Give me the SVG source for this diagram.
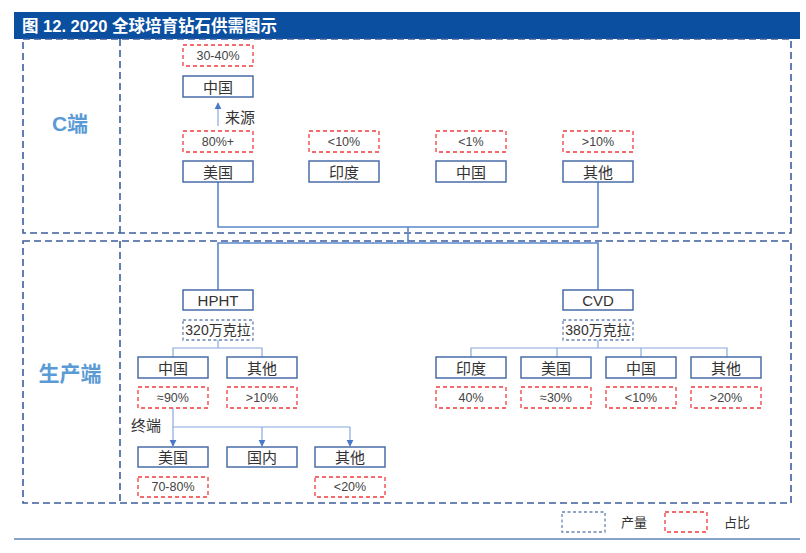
<svg xmlns="http://www.w3.org/2000/svg" width="806" height="553" viewBox="0 0 806 553">
<defs>
<style>
text{font-family:"Liberation Sans","Noto Sans CJK SC",sans-serif;fill:#333;}
.lbl{font-size:15px;text-anchor:middle;dominant-baseline:central;}
.q{font-size:14px;text-anchor:middle;dominant-baseline:central;}
.pct{font-size:12.5px;text-anchor:middle;dominant-baseline:central;fill:#444;}
.node{fill:#fff;stroke:#4a6ca8;stroke-width:1.5;}
.red{fill:#fff;stroke:#f23b3b;stroke-width:1.3;stroke-dasharray:4 3;}
.qty{fill:#fff;stroke:#6a84b4;stroke-width:1.3;stroke-dasharray:3 2.5;}
.frame{fill:none;stroke:#3d5e9c;stroke-width:1.6;stroke-dasharray:7 4;}
.sec{font-size:21px;font-weight:bold;fill:#5b9bd5;text-anchor:middle;dominant-baseline:central;}
.conn{fill:none;stroke:#5a86cc;stroke-width:1.6;}
.thin{fill:none;stroke:#8aa8dc;stroke-width:1.2;}
</style>
<marker id="ah" viewBox="0 0 10 10" refX="9" refY="5" markerWidth="6" markerHeight="6" orient="auto">
<path d="M0,0 L10,5 L0,10 z" fill="#4a78c8"/>
</marker>
</defs>
<rect width="806" height="553" fill="#fff"/>
<g id="title">
<rect x="14" y="12" width="786" height="27" fill="#0b4fa0"/>
<text x="22" y="26" style="font-size:16.5px;font-weight:bold;fill:#fff;dominant-baseline:central">图 12. 2020 全球培育钻石供需图示</text>
</g>
<g id="frames">
<rect class="frame" x="23" y="39" width="768" height="194"/>
<line class="frame" x1="120" y1="39" x2="120" y2="233"/>
<rect class="frame" x="23" y="241" width="768" height="262"/>
<line class="frame" x1="120" y1="241" x2="120" y2="503"/>
<text class="sec" x="70" y="123">C端</text>
<text class="sec" x="70" y="373">生产端</text>
</g>
<line x1="14" y1="539" x2="800" y2="539" stroke="#87a3c8" stroke-width="2"/>
<g id="connectors">
<path class="conn" d="M218,182 V227 H598 V182"/>
<path class="conn" d="M408,227 V243"/>
<path class="conn" d="M218,290 V243 H598 V290"/>
<path class="thin" d="M218,126 V103" marker-end="url(#ah)"/>
<path class="thin" d="M218,340 V348 M173,357 V348 H262 V357"/>
<path class="thin" d="M598,340 V348 M471,357 V348 H727 V357 M557,348 V357 M641,348 V357"/>
<path class="thin" d="M173,408 V427 H350"/>
<path class="thin" d="M173,427 V446" marker-end="url(#ah)"/>
<path class="thin" d="M262,427 V446" marker-end="url(#ah)"/>
<path class="thin" d="M350,427 V446" marker-end="url(#ah)"/>
<text x="225" y="117" style="font-size:15px;dominant-baseline:central">来源</text>
<text x="131" y="425" style="font-size:15px;dominant-baseline:central">终端</text>
</g>
<g id="c-china-top"><rect class="red" x="183" y="45" width="70" height="21"/><text class="pct" x="218" y="56">30-40%</text>
<rect class="node" x="183" y="76" width="70" height="21"/><text class="lbl" x="218" y="87">中国</text></g>
<g id="c-us"><rect class="red" x="183" y="131" width="70" height="21"/><text class="pct" x="218" y="142">80%+</text>
<rect class="node" x="183" y="161" width="70" height="21"/><text class="lbl" x="218" y="172">美国</text></g>
<g id="c-india"><rect class="red" x="309" y="131" width="70" height="21"/><text class="pct" x="344" y="142">&lt;10%</text>
<rect class="node" x="309" y="161" width="70" height="21"/><text class="lbl" x="344" y="172">印度</text></g>
<g id="c-china"><rect class="red" x="436" y="131" width="70" height="21"/><text class="pct" x="471" y="142">&lt;1%</text>
<rect class="node" x="436" y="161" width="70" height="21"/><text class="lbl" x="471" y="172">中国</text></g>
<g id="c-other"><rect class="red" x="563" y="131" width="70" height="21"/><text class="pct" x="598" y="142">&gt;10%</text>
<rect class="node" x="563" y="161" width="70" height="21"/><text class="lbl" x="598" y="172">其他</text></g>
<g id="hpht"><rect class="node" x="183" y="290" width="70" height="20"/><text class="lbl" x="218" y="300">HPHT</text>
<rect class="qty" x="183" y="320" width="70" height="20"/><text class="q" x="218" y="330">320万克拉</text></g>
<g id="cvd"><rect class="node" x="563" y="290" width="70" height="20"/><text class="lbl" x="598" y="300">CVD</text>
<rect class="qty" x="563" y="320" width="70" height="20"/><text class="q" x="598" y="330">380万克拉</text></g>
<g id="h-china"><rect class="node" x="138" y="357" width="70" height="21"/><text class="lbl" x="173" y="368">中国</text>
<rect class="red" x="138" y="387" width="70" height="21"/><text class="pct" x="173" y="398">≈90%</text></g>
<g id="h-other"><rect class="node" x="227" y="357" width="70" height="21"/><text class="lbl" x="262" y="368">其他</text>
<rect class="red" x="227" y="387" width="70" height="21"/><text class="pct" x="262" y="398">&gt;10%</text></g>
<g id="t-us"><rect class="node" x="138" y="447" width="70" height="20"/><text class="lbl" x="173" y="457">美国</text>
<rect class="red" x="138" y="477" width="70" height="20"/><text class="pct" x="173" y="487">70-80%</text></g>
<g id="t-domestic"><rect class="node" x="227" y="447" width="70" height="20"/><text class="lbl" x="262" y="457">国内</text></g>
<g id="t-other"><rect class="node" x="315" y="447" width="70" height="20"/><text class="lbl" x="350" y="457">其他</text>
<rect class="red" x="315" y="477" width="70" height="20"/><text class="pct" x="350" y="487">&lt;20%</text></g>
<g id="v-india"><rect class="node" x="436" y="357" width="70" height="21"/><text class="lbl" x="471" y="368">印度</text>
<rect class="red" x="436" y="387" width="70" height="21"/><text class="pct" x="471" y="398">40%</text></g>
<g id="v-us"><rect class="node" x="521" y="357" width="70" height="21"/><text class="lbl" x="556" y="368">美国</text>
<rect class="red" x="521" y="387" width="70" height="21"/><text class="pct" x="556" y="398">≈30%</text></g>
<g id="v-china"><rect class="node" x="606" y="357" width="70" height="21"/><text class="lbl" x="641" y="368">中国</text>
<rect class="red" x="606" y="387" width="70" height="21"/><text class="pct" x="641" y="398">&lt;10%</text></g>
<g id="v-other"><rect class="node" x="691" y="357" width="70" height="21"/><text class="lbl" x="726" y="368">其他</text>
<rect class="red" x="691" y="387" width="70" height="21"/><text class="pct" x="726" y="398">&gt;20%</text></g>
<g id="legend">
<rect class="qty" x="562" y="512" width="43" height="20"/><text x="621" y="522" style="font-size:13px;dominant-baseline:central">产量</text>
<rect class="red" x="665" y="512" width="42" height="20"/><text x="724" y="522" style="font-size:13px;dominant-baseline:central">占比</text>
</g>
</svg>
